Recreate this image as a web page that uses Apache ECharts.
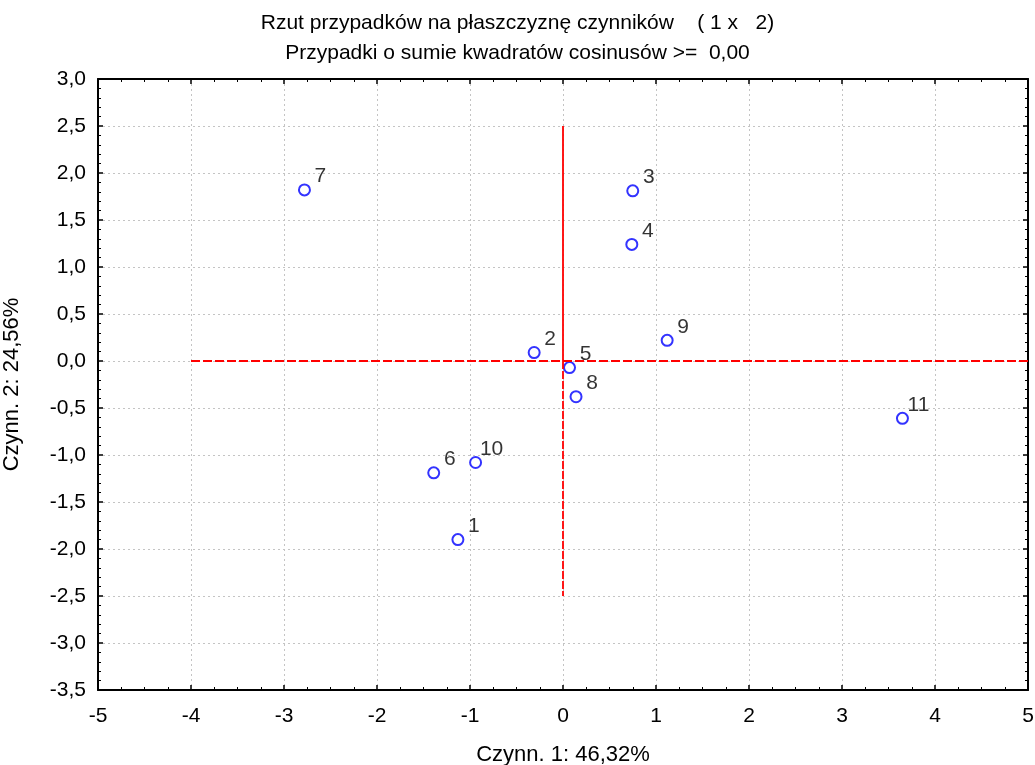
<!DOCTYPE html>
<html><head><meta charset="utf-8">
<script src="https://cdn.jsdelivr.net/npm/echarts@6/dist/echarts.min.js"></script>
<style>html,body{margin:0;padding:0;background:#fff}#c{width:1035px;height:765px}</style>
</head><body><div id="c"></div>
<script>
var caseLabels = ['1','2','3','4','5','6','7','8','9','10','11'];
var factor1 = [-1.13, -0.31, 0.75, 0.74, 0.07, -1.39, -2.78, 0.14, 1.12, -0.94, 3.65];
var factor2 = [-1.90, 0.09, 1.81, 1.24, -0.07, -1.19, 1.82, -0.38, 0.22, -1.08, -0.61];
var hLine = [[-4, 0], [5, 0]];
var vLineUpper = [[0, 2.5], [0, 0]];
var vLineLower = [[0, 0], [0, -2.5]];
var titleLines = ['Rzut przypadków na płaszczyznę czynników    ( 1 x   2)', 'Przypadki o sumie kwadratów cosinusów >=  0,00'];
var xName = 'Czynn. 1: 46,32%';
var yName = 'Czynn. 2: 24,56%';

var FONT = 'Liberation Sans, Arial, sans-serif';
var pts = factor1.map(function (x, i) { return [x, factor2[i], caseLabels[i]]; });
function fmt(v){ return (Math.abs(v) < 1e-9 ? 0 : v).toFixed(1).replace('.', ','); }

var chart = echarts.init(document.getElementById('c'));
var axisCommon = {
  axisLine: { show: true, onZero: false, lineStyle: { color: '#000', width: 2 } },
  axisTick: { show: true, inside: true, length: 5, lineStyle: { color: '#000', width: 1.5 } },
  minorTick: { show: true, length: 3, lineStyle: { color: '#000', width: 1 } }
};
var tStyle = { fontFamily: FONT, fontSize: 21, fontWeight: 'normal', color: '#000' };
chart.setOption({
  animation: false,
  title: [
    { text: titleLines[0], left: 'center', top: 8, textStyle: tStyle },
    { text: titleLines[1], left: 'center', top: 38, textStyle: tStyle }
  ],
  grid: { left: 98, right: 7, top: 79, bottom: 75, containLabel: false, outerBoundsMode: 'none' },
  xAxis: [
    Object.assign({}, axisCommon, {
      type: 'value', min: -5, max: 5, interval: 1, position: 'bottom',
      name: xName, nameLocation: 'middle', nameGap: 54,
      nameTextStyle: { fontFamily: FONT, fontSize: 22, color: '#000' },
      axisLabel: { fontFamily: FONT, fontSize: 21, color: '#000', margin: 16 },
      minorTick: Object.assign({ splitNumber: 4 }, axisCommon.minorTick),
      splitLine: { show: true, lineStyle: { color: '#c4c4c4', type: [2, 3], width: 1 } }
    }),
    Object.assign({}, axisCommon, {
      type: 'value', min: -5, max: 5, interval: 1, position: 'top',
      axisLabel: { show: false },
      minorTick: Object.assign({ splitNumber: 4 }, axisCommon.minorTick),
      splitLine: { show: false }
    })
  ],
  yAxis: [
    Object.assign({}, axisCommon, {
      type: 'value', min: -3.5, max: 3, interval: 0.5, position: 'left',
      name: yName, nameLocation: 'middle', nameGap: 75, nameRotate: 90,
      nameTextStyle: { fontFamily: FONT, fontSize: 22, color: '#000' },
      axisLabel: { fontFamily: FONT, fontSize: 21, color: '#000', margin: 12, formatter: fmt },
      minorTick: Object.assign({ splitNumber: 5 }, axisCommon.minorTick),
      splitLine: { show: true, lineStyle: { color: '#c4c4c4', type: [2, 3], width: 1 } }
    }),
    Object.assign({}, axisCommon, {
      type: 'value', min: -3.5, max: 3, interval: 0.5, position: 'right',
      axisLabel: { show: false },
      minorTick: Object.assign({ splitNumber: 5 }, axisCommon.minorTick),
      splitLine: { show: false }
    })
  ],
  series: [
    { type: 'line', data: hLine, symbol: 'none', silent: true,
      lineStyle: { color: '#ff0000', width: 1.8, type: [9, 3] } },
    { type: 'line', data: vLineUpper, symbol: 'none', silent: true,
      lineStyle: { color: '#ff0000', width: 1.8, type: 'solid' } },
    { type: 'line', data: vLineLower, symbol: 'none', silent: true,
      lineStyle: { color: '#ff0000', width: 1.8, type: [8, 2] } },
    { type: 'scatter', data: pts, symbol: 'emptyCircle', symbolSize: 11,
      itemStyle: { color: '#0000ff', borderColor: '#0000ff', borderWidth: 1.2 },
      label: { show: true, position: 'inside', offset: [16, -13.5], align: 'center', verticalAlign: 'middle',
        formatter: function (p) { return p.data[2]; },
        fontFamily: FONT, fontSize: 21, color: '#000', textBorderWidth: 0 } }
  ]
});
</script></body></html>
